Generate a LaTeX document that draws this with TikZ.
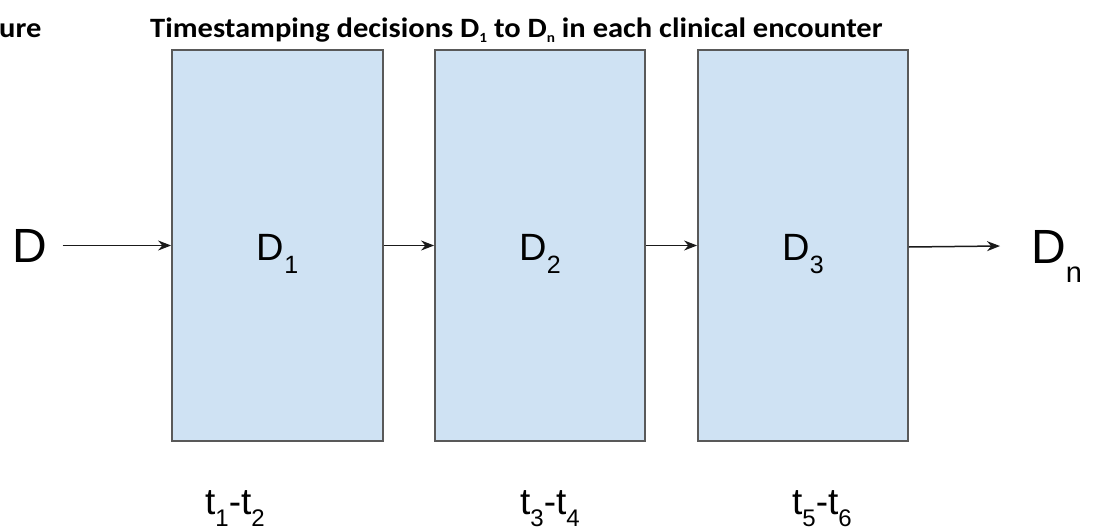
\documentclass[tikz,border=0pt]{standalone}
\usepackage{fontspec}
\setmainfont{Liberation Sans}
\newfontfamily\titlefont{Carlito}
\usetikzlibrary{arrows.meta}
\definecolor{boxfill}{HTML}{CFE2F3}
\definecolor{boxline}{HTML}{595959}
\definecolor{arrowcol}{HTML}{1A1A1A}
\newcommand{\lsub}[3]{\raisebox{-#2pt}{\fontsize{#1}{#1}\selectfont #3}}
\newcommand{\zsub}[3]{\raisebox{-#2pt}[0pt][0pt]{\fontsize{#1}{#1}\selectfont #3}}
\begin{document}
\begin{tikzpicture}[x=1pt,y=-1pt,
  stagebox/.style={draw=boxline,line width=1.8pt,fill=boxfill,inner sep=0pt},
  arr/.style={draw=arrowcol,line width=1.5pt,-{Stealth[length=13pt,width=10pt]}},
  bigD/.style={inner sep=0pt,font=\fontsize{48}{48}\selectfont},
  inD/.style={inner sep=0pt,anchor=base,font=\fontsize{38}{38}\selectfont},
  tlab/.style={inner sep=0pt,anchor=base west,font=\fontsize{37}{37}\selectfont},
  ttl/.style={inner sep=0pt,anchor=base west,xscale=1.09,font=\titlefont\bfseries\fontsize{28}{28}\selectfont}]
\useasboundingbox (0,0) rectangle (1097,532);
% title
\node[ttl] (fig) at (-1,38) {ure};
\node[ttl] (title) at (150,38) {Timestamping decisions D\lsub{14}{5}{1} to D\lsub{14}{5}{n} in each clinical encounter};
% boxes
\node[stagebox,minimum width=211pt,minimum height=391pt] (b1) at (277.5,245.5) {};
\node[stagebox,minimum width=210pt,minimum height=391pt] (b2) at (540,245.5) {};
\node[stagebox,minimum width=210pt,minimum height=391pt] (b3) at (803,245.5) {};
% box labels
\node[inD] (l1) at (277.5,260) {D\lsub{25}{13}{1}};
\node[inD] (l2) at (540,260) {D\lsub{25}{13}{2}};
\node[inD] (l3) at (803,260) {D\lsub{25}{13}{3}};
% outer labels
\node[bigD] (Din) at (30,245.5) {D};
\node[inner sep=0pt,anchor=base west,font=\fontsize{48}{48}\selectfont] (Dout) at (1031,263) {D\lsub{29}{19}{n}};
\coordinate (endn) at (1000,246);
% arrows
\draw[arr,shorten <=15pt] (Din) -- (b1.west);
\draw[arr] (b1.east) -- (b2.west);
\draw[arr] (b2.east) -- (b3.west);
\draw[arr] ([yshift=-1.5pt]b3.east) -- (endn);
% time labels
\node[tlab] (t12) at (205,514) {t\zsub{24}{12}{1}-t\zsub{24}{12}{2}};
\node[tlab] (t34) at (520,514) {t\zsub{24}{12}{3}-t\zsub{24}{12}{4}};
\node[tlab] (t56) at (792,514) {t\zsub{24}{12}{5}-t\zsub{24}{12}{6}};
\end{tikzpicture}
\end{document}
